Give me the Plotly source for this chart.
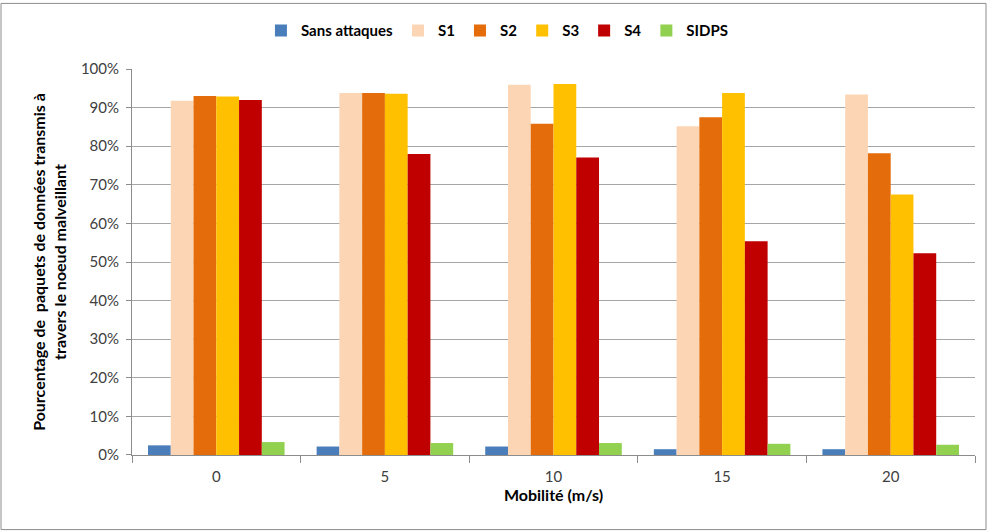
import plotly.graph_objects as go

# Vitesse de mobilité des noeuds (m/s)
mobilite = ["0", "5", "10", "15", "20"]

# Pourcentage de paquets de données transmis à travers le noeud malveillant
sans_attaques = [2.5, 2.2, 2.2, 1.5, 1.5]
s1 = [91.8, 93.8, 95.9, 85.2, 93.4]
s2 = [93.0, 93.8, 85.8, 87.5, 78.2]
s3 = [92.9, 93.6, 96.1, 93.8, 67.5]
s4 = [92.0, 78.0, 77.1, 55.4, 52.3]
sidps = [3.35, 3.1, 3.1, 2.9, 2.65]

series = [
    ("Sans attaques", sans_attaques, "#4A7EBB"),
    ("S1", s1, "#FCD5B5"),
    ("S2", s2, "#E46C0A"),
    ("S3", s3, "#FFC000"),
    ("S4", s4, "#C00000"),
    ("SIDPS", sidps, "#92D050"),
]

FONT = "Lato, 'Open Sans', sans-serif"

fig = go.Figure()
for name, vals, color in series:
    fig.add_trace(go.Bar(
        x=mobilite,
        y=[v / 100 for v in vals],
        name=name,
        marker=dict(color=color, line=dict(width=0)),
    ))

fig.update_layout(
    width=987,
    height=531,
    barmode="group",
    bargap=0.19,
    bargroupgap=0,
    paper_bgcolor="white",
    plot_bgcolor="white",
    margin=dict(l=132, r=12, t=67, b=76),
    font=dict(family=FONT, size=15, color="#404040"),
    legend=dict(
        orientation="h",
        xref="container",
        yref="container",
        x=0.504,
        xanchor="center",
        y=0.942,
        yanchor="middle",
        font=dict(family=FONT, size=15, color="#000000", weight="bold"),
        itemwidth=30,
        traceorder="normal",
    ),
    xaxis=dict(
        type="category",
        showgrid=False,
        showline=True,
        linecolor="#8c8c8c",
        linewidth=1,
        ticks="outside",
        tickson="boundaries",
        ticklen=7,
        tickcolor="#8c8c8c",
        ticklabelstandoff=8,
        tickfont=dict(family=FONT, size=15, color="#404040"),
        title=dict(
            text="Mobilité (m/s)",
            font=dict(family=FONT, size=16, color="#000000", weight="bold"),
            standoff=3,
        ),
    ),
    yaxis=dict(
        range=[0, 1.0],
        dtick=0.1,
        tickformat=".0%",
        showgrid=True,
        gridcolor="#a6a6a6",
        gridwidth=1,
        showline=True,
        linecolor="#8c8c8c",
        linewidth=1,
        ticks="outside",
        ticklen=5,
        tickcolor="#8c8c8c",
        ticklabelstandoff=4,
        tickfont=dict(family=FONT, size=15, color="#404040"),
        zeroline=False,
        title=dict(
            text="Pourcentage de  paquets de données transmis à<br>travers le noeud malveillant",
            font=dict(family=FONT, size=16, color="#000000", weight="bold"),
            standoff=10,
        ),
    ),
    shapes=[
        dict(
            type="rect",
            xref="paper",
            yref="paper",
            x0=-131 / 843,
            x1=(843 + 11) / 843,
            y0=-75 / 388,
            y1=(388 + 66) / 388,
            line=dict(color="#8c8c8c", width=1),
            fillcolor="rgba(0,0,0,0)",
            layer="below",
        )
    ],
)

fig.write_html("out.html")
